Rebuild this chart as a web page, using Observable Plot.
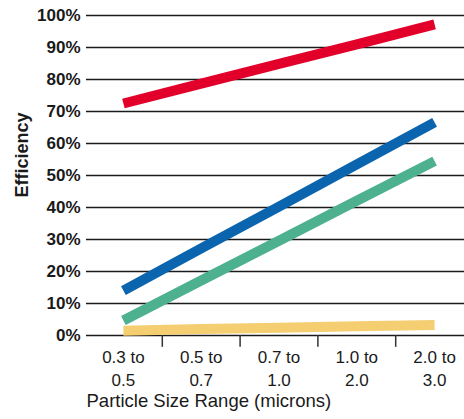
<!DOCTYPE html>
<html>
<head>
<meta charset="utf-8">
<script src="https://cdn.jsdelivr.net/npm/d3@7"></script>
<script src="https://cdn.jsdelivr.net/npm/@observablehq/plot@0.6"></script>
<style>
  html, body { margin: 0; padding: 0; background: #fff; overflow: hidden; }
</style>
</head>
<body>
<div id="chart"></div>
<script>
const categories = ["0.3 to\n0.5", "0.5 to\n0.7", "0.7 to\n1.0", "1.0 to\n2.0", "2.0 to\n3.0"];
const redValues    = [72.5, 78.7, 84.9, 91.0, 97.2];
const blueValues   = [14.0, 27.2, 40.3, 53.5, 66.6];
const greenValues  = [4.7, 17.2, 29.6, 42.1, 54.5];
const yellowValues = [1.5, 2.0, 2.4, 2.9, 3.3];
const yTicks = [0, 10, 20, 30, 40, 50, 60, 70, 80, 90, 100];
const tickLabels = yTicks.map(d => d + "%");
const yTitle = "Efficiency";
const xTitle = "Particle Size Range (microns)";

const series = [
  {name: "yellow", values: yellowValues, color: "#F6CE72"},
  {name: "green", values: greenValues, color: "#4DB08E"},
  {name: "blue", values: blueValues, color: "#0A64AE"},
  {name: "red", values: redValues, color: "#E2002B"}
];
const rows = series.flatMap(s => s.values.map((v, i) => ({series: s.name, i, v, color: s.color})));
const dividers = categories.slice(1).map((_, i) => i + 0.5);

const chart = Plot.plot({
  width: 464,
  height: 419,
  marginLeft: 86,
  marginRight: 0,
  marginTop: 15,
  marginBottom: 84,
  style: {fontFamily: "'Liberation Sans', Arial, sans-serif", overflow: "visible", background: "#fff"},
  x: {type: "linear", domain: [-0.5, 4.5], range: [84, 473], axis: null},
  y: {domain: [0, 100], axis: null},
  marks: [
    Plot.ruleY(yTicks, {stroke: "#1a1a1a", strokeWidth: 1.3}),
    Plot.ruleX(dividers, {y1: 0, y2: -3.7, stroke: "#333", strokeWidth: 1.5}),
    Plot.text(yTicks, {y: d => d, text: (d, i) => tickLabels[i], frameAnchor: "left", textAnchor: "end", dx: -6, fontSize: 17, fontWeight: "bold", fill: "#1a1a1a"}),
    Plot.text(categories, {x: (d, i) => i, text: d => d, frameAnchor: "bottom", dy: 31.5, lineAnchor: "middle", lineHeight: 1.38, fontSize: 17, fill: "#1a1a1a"}),
    Plot.text([yTitle], {frameAnchor: "left", dx: -64.5, dy: 22, rotate: -90, fontSize: 18, fontWeight: "bold", fill: "#1a1a1a"}),
    Plot.text([xTitle], {frameAnchor: "bottom-left", textAnchor: "start", dy: 71, fontSize: 18.5, fill: "#1a1a1a"}),
    ...series.map(s => Plot.line(rows.filter(r => r.series === s.name), {x: "i", y: "v", stroke: s.color, strokeWidth: 10, strokeLinecap: "butt"}))
  ]
});
document.getElementById("chart").appendChild(chart);
</script>
</body>
</html>
